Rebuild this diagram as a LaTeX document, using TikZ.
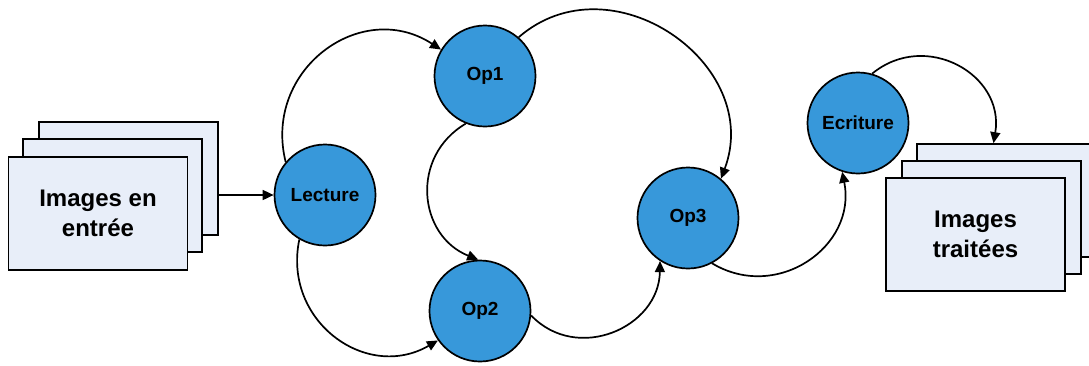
\documentclass[tikz,border=0pt]{standalone}
\usepackage{fontspec}
\setmainfont{Liberation Sans}
\usetikzlibrary{arrows.meta}
\definecolor{opblue}{RGB}{55,152,218}
\definecolor{imgfill}{RGB}{232,238,249}
\begin{document}
\begin{tikzpicture}[x=1pt,y=-1pt,
  op/.style={circle,draw=black,line width=1.7pt,fill=opblue,minimum size=101pt,inner sep=0pt,font=\fontsize{19}{22}\selectfont\bfseries},
  img/.style={rectangle,draw=black,line width=1.7pt,fill=imgfill,minimum width=179pt,minimum height=113pt,inner sep=0pt,align=center,font=\fontsize{24}{30}\selectfont\bfseries},
  conn/.style={line width=1.7pt,-{Triangle[length=11pt,width=10pt]}}]
\useasboundingbox (0,0) rectangle (1089,365);
% input images stack
\node[img] (lback) at (128.5,178.5) {};
\node[img] (lmid) at (112.5,195.5) {};
\node[img] (lfront) at (98,213.5) {Images en\\entrée};
% output images stack
\node[img] (rback) at (1006.5,200.5) {};
\node[img] (rmid) at (991.5,217.5) {};
\node[img] (rfront) at (975.5,234.5) {Images\\traitées};
% operations
\node[op] (lec) at (325,195) {Lecture};
\node[op] (op1) at (485,76) {Op1};
\node[op] (op2) at (480,311) {Op2};
\node[op] (op3) at (688,218) {Op3};
\node[op] (ecr) at (858,123) {Ecriture};
% connectors
\draw[conn] (lec.west -| lback.east) -- (lec.west);
\draw[conn] (lec.140) .. controls +(-23,-92) and +(-80,-52) .. (op1.149);
\draw[conn] (lec.240) .. controls +(-17,81) and +(-72,41.5) .. (op2.215);
\draw[conn] (op1.248) .. controls +(-56,33) and +(-60,-24) .. (op2.92);
\draw[conn] (op1.49) .. controls +(92,-80) and +(43,-115) .. (op3.50);
\draw[conn] (op2.355) .. controls +(46,48) and +(-1,66.5) .. (op3.237);
\draw[conn] (op3.298) .. controls +(65,39) and +(15,74.5) .. (ecr.252);
\draw[conn] (ecr.74) .. controls +(53.5,-44) and +(11.5,-68.5) .. ([xshift=-13pt]rback.north);
\end{tikzpicture}
\end{document}
